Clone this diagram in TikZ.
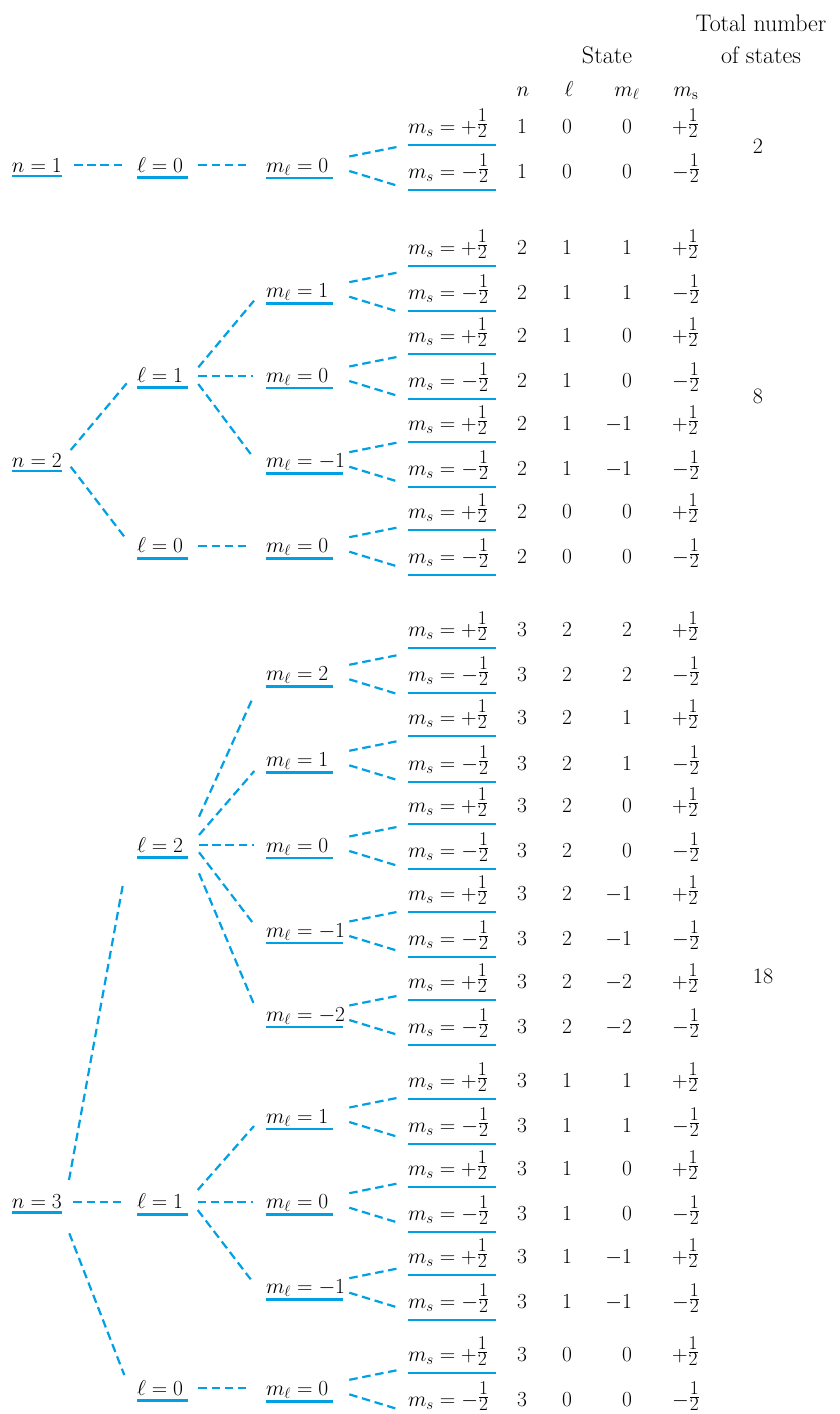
\RequirePackage{fix-cm}
\documentclass[tikz,border=0pt]{standalone}
\usetikzlibrary{calc}
\definecolor{tree}{RGB}{0,160,227}
\newcommand\myhalf{\raisebox{3.5pt}{$\frac{\hbox{\fontsize{19.5}{19.5}\selectfont 1}}{\hbox{\fontsize{19.5}{19.5}\selectfont 2}}$}}
\tikzset{
  lbl/.style={anchor=base west, inner sep=0pt, outer sep=0pt, font=\fontsize{21.5}{26}\selectfont},
  val/.style={inner sep=0pt, outer sep=0pt, font=\fontsize{21.5}{26}\selectfont},
  hdr/.style={inner sep=0pt, outer sep=0pt, anchor=base, font=\fontsize{24}{28}\selectfont},
  totn/.style={inner sep=0pt, outer sep=0pt, font=\fontsize{22}{26}\selectfont},
  uline/.style={draw=tree, line width=2.8pt},
  conn/.style={draw=tree, line width=2.2pt, dash pattern=on 8.5pt off 4.7pt}
}
% underline: node, offset below baseline, width
\newcommand\ulin[3]{\draw[uline] ($(#1.base west)+(0,#2)$) -- ++(#3,0);}
\newcommand\cnx[6]{\draw[conn] ($(#1.base west)+(#2,#3)$) -- ($(#4.base west)+(#5,#6)$);}
\newcommand\fan[5]{\cnx{#1}{83.3}{-15.5}{#2}{-11.3}{#4}\cnx{#1}{83.3}{-1}{#3}{-11.3}{#5}}
\newcommand\srowbody[6]{%
  \node[lbl] (s#1) at (408,#2-12) {$m_s = #6\myhalf$};
  \node[val, anchor=base] (vn#1) at (522,#2-12) {$#3$};
  \node[val, anchor=base] (vl#1) at (567,#2-12) {$#4$};
  \node[val, anchor=base east] (vm#1) at (632,#2-12) {$#5$};
  \node[val, anchor=base west] (vs#1) at (672,#2-12) {$#6\myhalf$};
}
\newcommand\staterow[6]{\srowbody{#1}{#2}{#3}{#4}{#5}{#6}\ulin{s#1}{12}{88}}
\begin{document}
\begin{tikzpicture}[x=1pt,y=-1pt]
\useasboundingbox (0,0) rectangle (840,1414);
% headers
\node[hdr] (tot1) at (761,31.7) {Total number};
\node[hdr] (tot2) at (761,63.3) {of states};
\node[hdr] (st) at (607,63.3) {State};
\node[val, anchor=base] (hn) at (523,96.7) {$n$};
\node[val, anchor=base] (hl) at (569,96.7) {$\ell$};
\node[val, anchor=base] (hml) at (627,96.7) {$m_\ell$};
\node[val, anchor=base] (hms) at (686,96.7) {$m_{\mathrm{s}}$};
% ---------------- n = 1
\node[lbl] (N1) at (12,172) {$n = 1$}; \ulin{N1}{4}{50}
\node[lbl] (L10) at (137,172) {$\ell = 0$}; \ulin{L10}{5.5}{50.5}
\node[lbl] (M100) at (266,172) {$m_\ell = 0$}; \ulin{M100}{6}{66.5}
\staterow{1}{145}{1}{0}{0}{+}
\staterow{2}{190}{1}{0}{0}{-}
\cnx{N1}{62}{-7}{L10}{-15.3}{-7}
\cnx{L10}{61.3}{-7}{M100}{-20}{-7}
\fan{M100}{s1}{s2}{14}{7.5}
\node[totn] (T1) at (758,146.7) {2};
% ---------------- n = 2
\node[lbl] (N2) at (12,467) {$n = 2$}; \ulin{N2}{4}{50}
\node[lbl] (L21) at (137,382) {$\ell = 1$}; \ulin{L21}{5.5}{50.5}
\node[lbl] (L20) at (137,552.7) {$\ell = 0$}; \ulin{L20}{5.5}{50.5}
\node[lbl] (M211) at (266,297.7) {$m_\ell = 1$}; \ulin{M211}{6}{66.5}
\node[lbl] (M210) at (266,382) {$m_\ell = 0$}; \ulin{M210}{6}{66.5}
\node[lbl] (M21m) at (266,467.7) {$m_\ell = -1$}; \ulin{M21m}{6}{77}
\node[lbl] (M200) at (266,552.7) {$m_\ell = 0$}; \ulin{M200}{6}{66.5}
\staterow{3}{266}{2}{1}{1}{+}
\staterow{4}{311}{2}{1}{1}{-}
\staterow{5}{354}{2}{1}{0}{+}
\staterow{6}{399}{2}{1}{0}{-}
\staterow{7}{442}{2}{1}{-1}{+}
\staterow{8}{487}{2}{1}{-1}{-}
\staterow{9}{530}{2}{0}{0}{+}
\staterow{10}{575}{2}{0}{0}{-}
\cnx{N2}{58.7}{-17}{L21}{-10.3}{1.3}
\cnx{N2}{58.7}{-0.3}{L20}{-12.7}{-16}
\cnx{L21}{61.3}{-14.7}{M211}{-12}{3}
\cnx{L21}{61.3}{-6}{M210}{-13.3}{-6}
\cnx{L21}{61.3}{2}{M21m}{-15.3}{-13.7}
\cnx{L20}{61.3}{-7}{M200}{-20}{-7}
\fan{M211}{s3}{s4}{18.7}{12.2}
\fan{M210}{s5}{s6}{15}{8.5}
\fan{M21m}{s7}{s8}{12.7}{6.2}
\fan{M200}{s9}{s10}{9.7}{3.2}
\node[totn] (T2) at (758,396.7) {8};
% ---------------- n = 3
\node[lbl] (N3) at (12,1208.7) {$n = 3$}; \ulin{N3}{4}{50}
\node[lbl] (L32) at (137,852) {$\ell = 2$}; \ulin{L32}{5.5}{50.5}
\node[lbl] (L31) at (137,1208.7) {$\ell = 1$}; \ulin{L31}{5.5}{50.5}
\node[lbl] (L30) at (137,1395.3) {$\ell = 0$}; \ulin{L30}{5.5}{50.5}
\node[lbl] (M322) at (266,680.3) {$m_\ell = 2$}; \ulin{M322}{6}{66.5}
\node[lbl] (M321) at (266,766.3) {$m_\ell = 1$}; \ulin{M321}{6}{66.5}
\node[lbl] (M320) at (266,852) {$m_\ell = 0$}; \ulin{M320}{6}{66.5}
\node[lbl] (M32a) at (266,937) {$m_\ell = -1$}; \ulin{M32a}{6}{77}
\node[lbl] (M32b) at (266,1021) {$m_\ell = -2$}; \ulin{M32b}{6}{77}
\node[lbl] (M311) at (266,1123) {$m_\ell = 1$}; \ulin{M311}{6}{66.5}
\node[lbl] (M310) at (266,1208.7) {$m_\ell = 0$}; \ulin{M310}{6}{66.5}
\node[lbl] (M31a) at (266,1293.7) {$m_\ell = -1$}; \ulin{M31a}{6}{77}
\node[lbl] (M300) at (266,1395.3) {$m_\ell = 0$}; \ulin{M300}{6}{66.5}
\staterow{11}{648}{3}{2}{2}{+}
\staterow{12}{693}{3}{2}{2}{-}
\staterow{13}{736}{3}{2}{1}{+}
\staterow{14}{782}{3}{2}{1}{-}
\staterow{15}{824}{3}{2}{0}{+}
\staterow{16}{869}{3}{2}{0}{-}
\staterow{17}{912}{3}{2}{-1}{+}
\staterow{18}{957}{3}{2}{-1}{-}
\staterow{19}{1000}{3}{2}{-2}{+}
\staterow{20}{1045}{3}{2}{-2}{-}
\staterow{21}{1099}{3}{1}{1}{+}
\staterow{22}{1144}{3}{1}{1}{-}
\staterow{23}{1187}{3}{1}{0}{+}
\staterow{24}{1232}{3}{1}{0}{-}
\staterow{25}{1275}{3}{1}{-1}{+}
\staterow{26}{1320}{3}{1}{-1}{-}
\staterow{27}{1373}{3}{0}{0}{+}
\srowbody{28}{1418}{3}{0}{0}{-}
\cnx{N3}{57}{-28.7}{L32}{-14.3}{33.7}
\cnx{N3}{61.3}{-7}{L31}{-15.3}{-7}
\cnx{N3}{57.3}{24.6}{L30}{-12.7}{-20.3}
\cnx{L32}{62}{-35.3}{M322}{-13.7}{18.7}
\cnx{L32}{62}{-17}{M321}{-11.7}{4.7}
\cnx{L32}{62}{-7}{M320}{-11.7}{-7}
\cnx{L32}{62}{0.3}{M32a}{-13.3}{-14.3}
\cnx{L32}{62}{21.3}{M32b}{-12}{-16.7}
\cnx{L31}{60.7}{-18.7}{M311}{-12}{3}
\cnx{L31}{60.7}{-7}{M310}{-13.3}{-7}
\cnx{L31}{60.7}{1.3}{M31a}{-15.3}{-14.4}
\cnx{L30}{61.3}{-7}{M300}{-20}{-7}
\fan{M322}{s11}{s12}{19.3}{12.8}
\fan{M321}{s13}{s14}{17.3}{9.8}
\fan{M320}{s15}{s16}{15}{8.5}
\fan{M32a}{s17}{s18}{12}{5.5}
\fan{M32b}{s19}{s20}{8}{1.5}
\fan{M311}{s21}{s22}{11}{4.5}
\fan{M310}{s23}{s24}{8.7}{2.2}
\fan{M31a}{s25}{s26}{5.7}{-0.8}
\fan{M300}{s27}{s28}{9.3}{2.8}
\node[totn] (T3) at (763,976.7) {18};
\end{tikzpicture}
\end{document}
